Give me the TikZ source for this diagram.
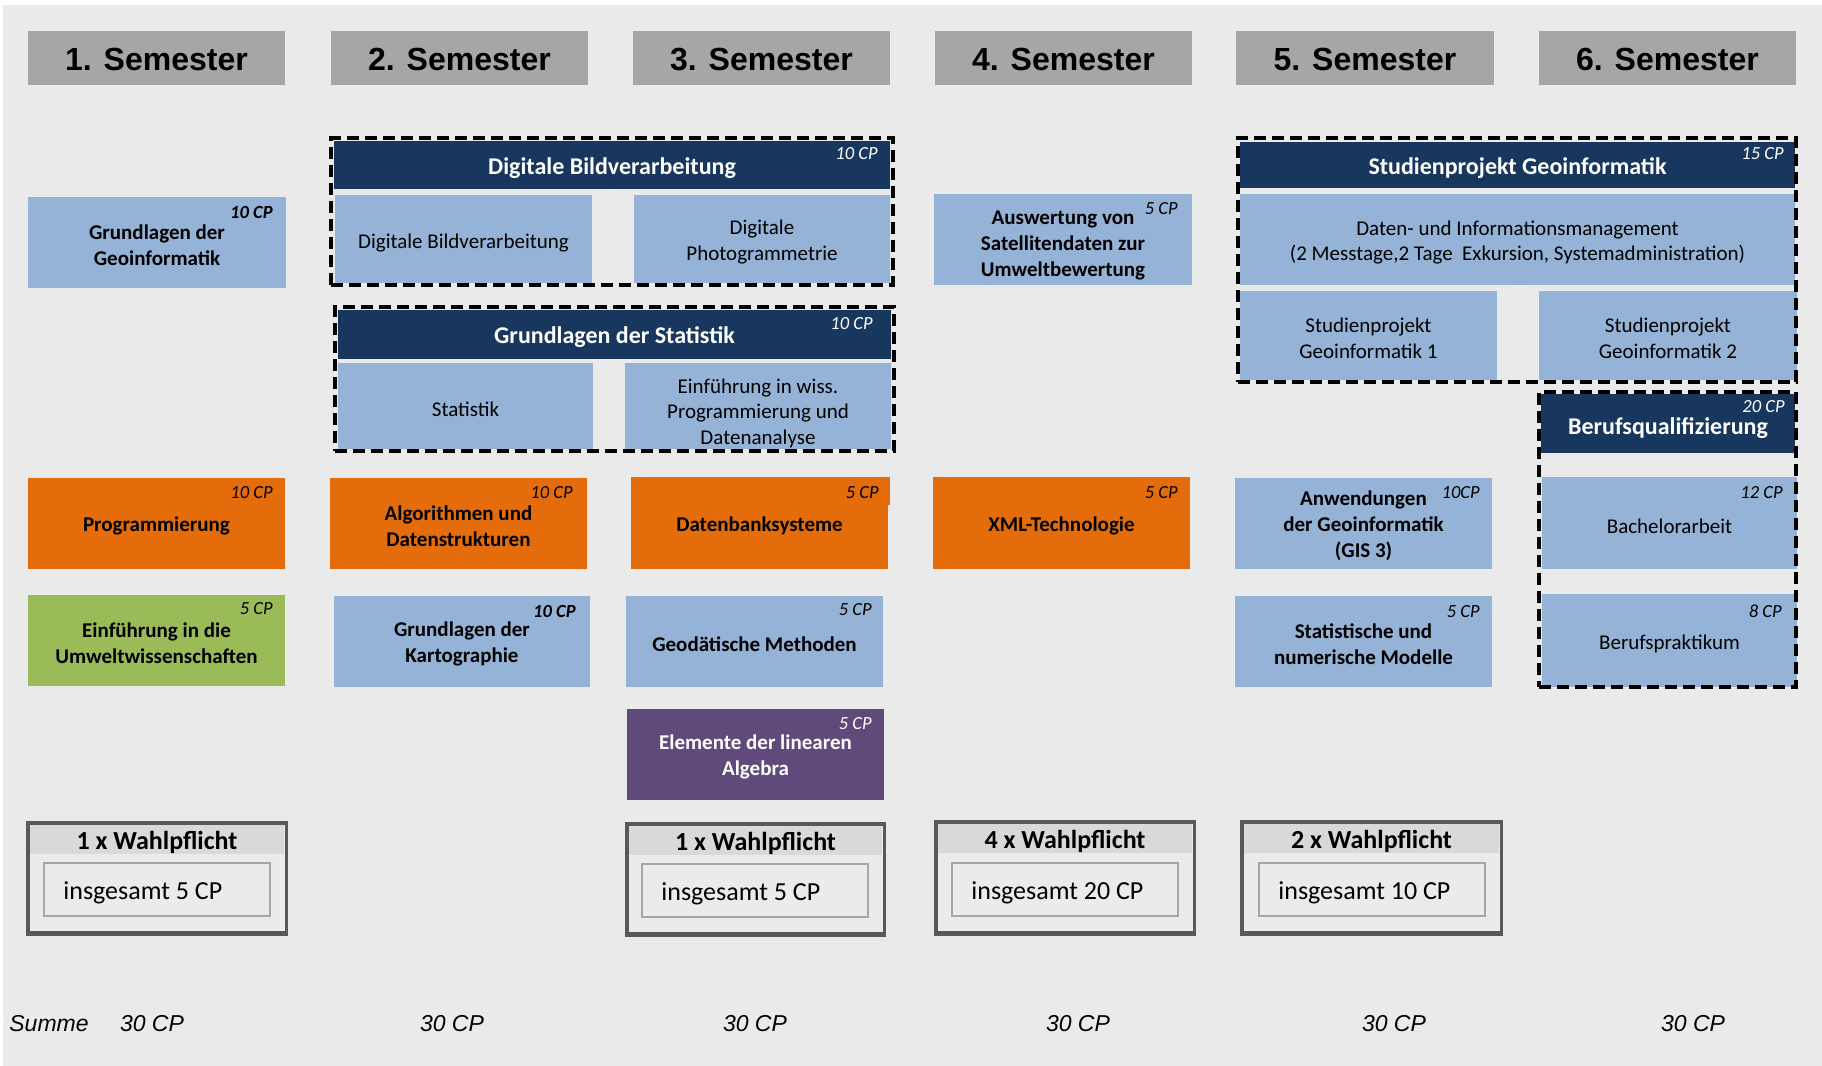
\documentclass[tikz,border=0pt]{standalone}
\usepackage{fontspec}
\setmainfont{Carlito}
\newfontfamily\arialf{Liberation Sans}
\usetikzlibrary{calc,fit}
\definecolor{bg}{HTML}{EAEAEA}
\definecolor{lblue}{HTML}{95B3D7}
\definecolor{navy}{HTML}{17375E}
\definecolor{orng}{HTML}{E46C0A}
\definecolor{grn}{HTML}{9BBB59}
\definecolor{purp}{HTML}{604A7B}
\definecolor{hgray}{HTML}{A6A6A6}
\definecolor{wborder}{HTML}{595959}
\definecolor{wstrip}{HTML}{D9D9D9}
\definecolor{wfill}{HTML}{EBEBEB}
\definecolor{ibord}{HTML}{A6A6A6}
\definecolor{sepc}{HTML}{EDECE5}
\newcommand\wahlbox[7]{%
  \node[rbox, fill=wfill, fit={#2 #3}] (#1) {};
  \fill[wstrip] ($(#1.north west)+(4,4)$) rectangle ($(#1.north east)+(-4,33)$);
  \draw[wborder, line width=1.75pt] ($(#1.north west)+(1.75,1.75)$) rectangle ($(#1.south east)+(-1.75,-1.75)$);
  \fill[wborder] ($(#1.south west)+(0,-5.5)$) rectangle (#1.south east);
  \node[whead] (#1h) at ($(#1.north)+(0,21)$) {#6};
  \node[rbox, draw=ibord, line width=0.75pt, fit={#4 #5}] (#1i) {};
  \node[wtext, anchor=west] (#1t) at ($(#1i.west)+(19,3)$) {#7};
}
\begin{document}
\begin{tikzpicture}[x=0.5pt,y=-0.5pt,
  rbox/.style={inner sep=0pt, outer sep=0pt, draw=none},
  hdr/.style={rbox, fill=hgray},
  hdrtext/.style={font=\arialf\bfseries\fontsize{16}{19}\selectfont, text=black, yshift=-0.75pt},
  lb/.style={rbox, fill=lblue},
  nv/.style={rbox, fill=navy},
  og/.style={rbox, fill=orng},
  gn/.style={rbox, fill=grn},
  pu/.style={rbox, fill=purp},
  mt/.style={font=\bfseries\fontsize{10.5}{13}\selectfont, align=center, text=black, inner sep=0pt, yshift=-1.25pt},
  mr/.style={font=\fontsize{10.5}{12.8}\selectfont, align=center, text=black, inner sep=0pt, yshift=-1.5pt},
  nt/.style={font=\bfseries\fontsize{12}{14}\selectfont, text=white, inner sep=0pt, yshift=-1.5pt},
  cp/.style={font=\itshape\fontsize{9.25}{11}\selectfont, anchor=east, inner sep=0pt, text=black},
  cpb/.style={cp, font=\bfseries\itshape\fontsize{9.25}{11}\selectfont},
  cpw/.style={cp, text=white},
  grp/.style={rbox, draw=black, line width=2pt, dash pattern=on 6pt off 3pt},
  whead/.style={font=\bfseries\fontsize{13}{15}\selectfont, inner sep=0pt},
  wtext/.style={font=\fontsize{13}{15}\selectfont, inner sep=0pt},
  sumt/.style={font=\arialf\itshape\fontsize{11.5}{13}\selectfont, inner sep=0pt}
]
\useasboundingbox (0,0) rectangle (1822,1066);
\fill[white] (0,0) rectangle (1822,1066);
\fill[bg] (3,5) rectangle (1822,1066);
% faint column separators
\foreach \sx in {308,609,912,1219,1520} \draw[sepc, line width=0.6pt] (\sx,5) -- (\sx,1066);
\draw[sepc, line width=0.6pt] (3,1018) -- (1822,1018);

% headers
\node[hdr, fit={(28,31)(285,85)}] (h1) {};
\node[hdr, fit={(331,31)(588,85)}] (h2) {};
\node[hdr, fit={(633,31)(890,85)}] (h3) {};
\node[hdr, fit={(935,31)(1192,85)}] (h4) {};
\node[hdr, fit={(1236,31)(1494,85)}] (h5) {};
\node[hdr, fit={(1539,31)(1796,85)}] (h6) {};
\node[hdrtext] at (h1) {1. Semester};
\node[hdrtext] at (h2) {2. Semester};
\node[hdrtext] at (h3) {3. Semester};
\node[hdrtext] at (h4) {4. Semester};
\node[hdrtext] at (h5) {5. Semester};
\node[hdrtext] at (h6) {6. Semester};

% semester 1
\node[lb, fit={(28,197)(286,288)}] (geo) {};
\node[mt] at (geo) {Grundlagen der\\Geoinformatik};
\node[cpb] at ($(geo.north east)+(-13,15)$) {10 CP};
\node[og, fit={(28,478)(285,569)}] (prog) {};
\node[mt] at (prog) {Programmierung};
\node[cp] at ($(prog.north east)+(-12,15)$) {10 CP};
\node[gn, fit={(28,595)(285,686)}] (umw) {};
\node[mt] at (umw) {Einführung in die\\Umweltwissenschaften};
\node[cp] at ($(umw.north east)+(-12,14)$) {5 CP};

% Digitale Bildverarbeitung
\node[nv, fit={(334,141)(890,189)}] (dbvh) {};
\node[nt] at (dbvh) {Digitale Bildverarbeitung};
\node[cpw] at ($(dbvh.north east)+(-12,13)$) {10 CP};
\node[lb, fit={(335,195)(592,283)}] (dbv) {};
\node[mr] at ($(dbv)+(0,1)$) {Digitale Bildverarbeitung};
\node[lb, fit={(634,195)(890,283)}] (dpg) {};
\node[mr] at (dpg) {Digitale\\Photogrammetrie};
\node[grp, fit={(331,138)(892.5,284.5)}] (dbvg) {};

% Grundlagen der Statistik
\node[nv, fit={(338,310)(891,359)}] (sth) {};
\node[nt] at (sth) {Grundlagen der Statistik};
\node[cpw] at ($(sth.north east)+(-18,14)$) {10 CP};
\node[lb, fit={(338,363)(593,449)}] (stat) {};
\node[mr] at (stat) {Statistik};
\node[lb, fit={(625,363)(891,449)}] (wiss) {};
\node[mr] at ($(wiss)+(0,4)$) {Einführung in wiss.\\Programmierung und\\Datenanalyse};
\node[grp, fit={(334.5,307)(893.5,451)}] (stg) {};

% semester 2
\node[og, fit={(330,478)(587,569)}] (algo) {};
\node[mt] at (algo) {Algorithmen und\\Datenstrukturen};
\node[cp] at ($(algo.north east)+(-14,15)$) {10 CP};
\node[lb, fit={(334,596)(590,687)}] (karto) {};
\node[mt] at (karto) {Grundlagen der\\Kartographie};
\node[cpb] at ($(karto.north east)+(-14,15)$) {10 CP};

% semester 3
\node[og, fit={(631,477)(888,569)}] (dbs) {};
\fill[orng] (dbs.north east) rectangle ($(dbs.north east)+(2,28)$);
\node[mt] at (dbs) {Datenbanksysteme};
\node[cp] at ($(dbs.north east)+(-9,16)$) {5 CP};
\node[lb, fit={(626,596)(883,687)}] (geod) {};
\node[mt] at (geod) {Geodätische Methoden};
\node[cp] at ($(geod.north east)+(-11,14)$) {5 CP};
\node[pu, fit={(627,709)(884,800)}] (lina) {};
\node[mt, text=white] at (lina) {Elemente der linearen\\Algebra};
\node[cpw] at ($(lina.north east)+(-12,15)$) {5 CP};

% semester 4
\node[lb, fit={(934,194)(1192,285)}] (sat) {};
\node[mt] at ($(sat)+(0,3)$) {Auswertung von\\Satellitendaten zur\\Umweltbewertung};
\node[cp] at ($(sat.north east)+(-14,15)$) {5 CP};
\node[og, fit={(933,477)(1190,569)}] (xml) {};
\node[mt] at (xml) {XML-Technologie};
\node[cp] at ($(xml.north east)+(-12,16)$) {5 CP};

% Studienprojekt
\node[nv, fit={(1240,142)(1795,188)}] (sph) {};
\node[nt] at (sph) {Studienprojekt Geoinformatik};
\node[cpw] at ($(sph.north east)+(-11,12)$) {15 CP};
\node[lb, fit={(1240,194)(1795,285)}] (dim) {};
\node[mr] at (dim) {Daten- und Informationsmanagement\\(2 Messtage,2 Tage\ \ Exkursion, Systemadministration)};
\node[lb, fit={(1240,291)(1497,380)}] (sp1) {};
\node[mr] at (sp1) {Studienprojekt\\Geoinformatik 1};
\node[lb, fit={(1539,291)(1797,380)}] (sp2) {};
\node[mr] at (sp2) {Studienprojekt\\Geoinformatik 2};
\node[grp, fit={(1237.5,138)(1796,381.5)}] (spg) {};

% semester 5
\node[lb, fit={(1235,478)(1492,569)}] (gis) {};
\node[mt] at (gis) {Anwendungen\\der Geoinformatik\\(GIS 3)};
\node[cp] at ($(gis.north east)+(-12,15)$) {10CP};
\node[lb, fit={(1235,596)(1492,687)}] (snm) {};
\node[mt] at (snm) {Statistische und\\numerische Modelle};
\node[cp] at ($(snm.north east)+(-12,16)$) {5 CP};

% Berufsqualifizierung
\node[nv, fit={(1541,394)(1795,453)}] (bqh) {};
\node[nt] at ($(bqh)+(0,2)$) {Berufsqualifizierung};
\node[cpw] at ($(bqh.north east)+(-10,13)$) {20 CP};
\node[lb, fit={(1542,477)(1797,569)}] (ba) {};
\node[mr] at (ba) {Bachelorarbeit};
\node[cp] at ($(ba.north east)+(-14,16)$) {12 CP};
\node[lb, fit={(1542,594)(1797,687)}] (bp) {};
\node[mr] at (bp) {Berufspraktikum};
\node[cp] at ($(bp.north east)+(-15,17)$) {8 CP};
\node[grp, fit={(1539,391.5)(1796,686.5)}] (bqg) {};

% Wahlpflicht
\wahlbox{w1}{(26,821)}{(288,936)}{(44,863)}{(270,916)}{1 x Wahlpflicht}{insgesamt 5 CP}
\wahlbox{w3}{(625,822)}{(886,937)}{(642,864)}{(868,917)}{1 x Wahlpflicht}{insgesamt 5 CP}
\wahlbox{w4}{(934,820)}{(1196,936)}{(952,863)}{(1178,916)}{4 x Wahlpflicht}{insgesamt 20 CP}
\wahlbox{w5}{(1240,820)}{(1503,936)}{(1259,863)}{(1485,916)}{2 x Wahlpflicht}{insgesamt 10 CP}

% sums
\node[sumt, anchor=west] (summe) at (9,1024) {Summe};
\node[sumt] (s1) at (152,1024) {30 CP};
\node[sumt] (s2) at (452,1024) {30 CP};
\node[sumt] (s3) at (755,1024) {30 CP};
\node[sumt] (s4) at (1078,1024) {30 CP};
\node[sumt] (s5) at (1394,1024) {30 CP};
\node[sumt] (s6) at (1693,1024) {30 CP};
\end{tikzpicture}
\end{document}
